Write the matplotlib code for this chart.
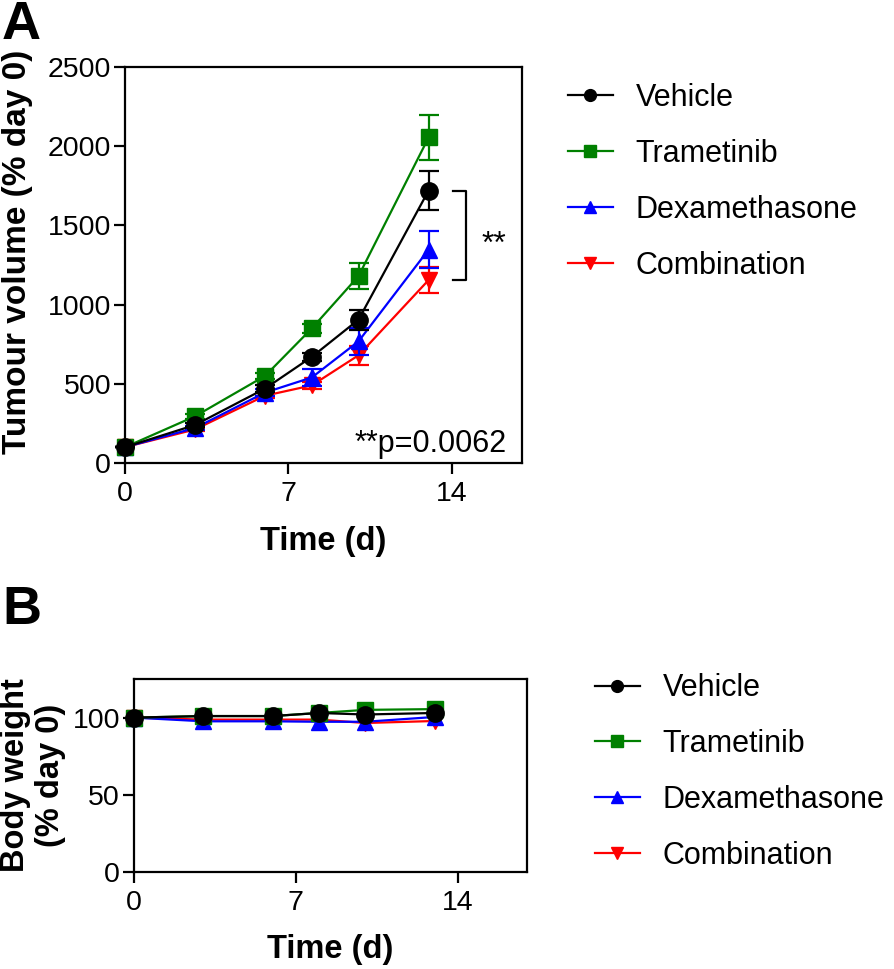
import matplotlib
matplotlib.use("Agg")
import matplotlib.pyplot as plt
from matplotlib.lines import Line2D

plt.rcParams['font.family'] = ['Liberation Sans', 'DejaVu Sans']

# ---------------- data ----------------
days = [0, 3, 6, 8, 10, 13]
groups = ["Vehicle", "Trametinib", "Dexamethasone", "Combination"]

vehicle_vol = [100, 240, 470, 670, 905, 1720]
vehicle_err = [0, 15, 20, 25, 63, 122]
trametinib_vol = [100, 295, 550, 850, 1180, 2055]
trametinib_err = [0, 15, 20, 30, 80, 140]
dexa_vol = [100, 221, 445, 540, 768, 1347]
dexa_err = [0, 12, 20, 55, 84, 115]
combo_vol = [100, 212, 425, 490, 680, 1155]
combo_err = [0, 10, 15, 20, 60, 80]

vehicle_bw = [100, 101, 101, 103, 102, 103]
trametinib_bw = [100, 101, 101, 103, 105, 105.5]
dexa_bw = [100, 97.6, 97.6, 97.3, 97.3, 100.4]
combo_bw = [100, 98.7, 98.7, 98.7, 96.5, 97.8]

x_ticks = [0, 7, 14]
vol_ticks = [0, 500, 1000, 1500, 2000, 2500]
bw_ticks = [0, 50, 100]
p_text = "**p=0.0062"
sig_text = "**"

colors = ["black", "#008000", "#0000ff", "#ff0000"]
markers = ["o", "s", "^", "v"]
msizes = [12.5, 11, 12, 12]
zorders = [6, 5, 4, 3]

vols = [vehicle_vol, trametinib_vol, dexa_vol, combo_vol]
errs = [vehicle_err, trametinib_err, dexa_err, combo_err]
bws = [vehicle_bw, trametinib_bw, dexa_bw, combo_bw]

W, H = 894, 969
fig = plt.figure(figsize=(W / 100, H / 100), dpi=100)

def px_axes(l, t, r, b):
    return fig.add_axes([l / W, 1 - b / H, (r - l) / W, (b - t) / H])

axA = px_axes(125, 67, 522, 463)
axB = px_axes(134, 679, 527, 872)

TICK_FS = 20.5
LAB_FS = 23.5

def style(ax):
    for s in ax.spines.values():
        s.set_linewidth(1.6)
    ax.tick_params(axis='both', length=8, width=1.6, labelsize=TICK_FS, direction='out')
    ax.tick_params(axis='x', pad=5)
    ax.tick_params(axis='y', pad=2)
    ax.set_xlim(0, 17)
    ax.set_xticks(x_ticks)

# ---- Panel A ----
for name, v, e, c, m, ms, z in zip(groups, vols, errs, colors, markers, msizes, zorders):
    axA.errorbar(days, v, yerr=e, color=c, marker=m, markersize=ms, lw=1.6,
                 elinewidth=1.6, capsize=7, capthick=1.6, zorder=z, clip_on=False,
                 label=name)
style(axA)
axA.set_ylim(0, 2500)
axA.set_yticks(vol_ticks)
axA.set_xlabel("Time (d)", fontsize=LAB_FS, fontweight='bold')
axA.xaxis.set_label_coords(0.5, -0.16)
axA.xaxis.label.set_va('top')

fig.text(18 / W, 1 - 252 / H, "Tumour volume (% day 0)", rotation=90,
         ha='center', va='center', fontsize=LAB_FS + 0.5, fontweight='bold')

axA.text(0.962, 0.028, p_text, transform=axA.transAxes, ha='right',
         va='baseline', fontsize=22, zorder=10)

# significance bracket between vehicle and combination at last day
bx0, bx1 = 14.05, 14.6
yt, yb = vehicle_vol[-1], combo_vol[-1]
axA.plot([bx0, bx1, bx1, bx0], [yt, yt, yb, yb], color='black', lw=1.6, clip_on=False)
axA.text(0.929, 0.53, sig_text, transform=axA.transAxes, ha='center',
         va='baseline', fontsize=23)

# ---- Panel B ----
for name, v, c, m, ms, z in zip(groups, bws, colors, markers, msizes, zorders):
    axB.plot(days, v, color=c, marker=m, markersize=ms, lw=1.6, zorder=z,
             clip_on=False, label=name)
style(axB)
axB.set_ylim(0, 125)
axB.set_yticks(bw_ticks)
axB.set_xlabel("Time (d)", fontsize=LAB_FS, fontweight='bold')
axB.xaxis.set_label_coords(0.5, -0.32)
axB.xaxis.label.set_va('top')

fig.text(33 / W, 1 - 775 / H, "Body weight\n(% day 0)", rotation=90,
         ha='center', va='center', multialignment='center',
         fontsize=LAB_FS, fontweight='bold')

# ---- legends ----
def make_handles():
    return [Line2D([], [], color=c, marker=m, markersize=8.5 if m != 's' else 8, lw=1.6)
            for c, m in zip(colors, markers)]

legA = fig.legend(make_handles(), groups, loc='center left',
                  bbox_to_anchor=(568 / W, 1 - 182 / H), frameon=False,
                  fontsize=22, handlelength=1.47, handletextpad=0.75,
                  borderpad=0, borderaxespad=0, labelspacing=0.85)
legB = fig.legend(make_handles(), groups, loc='center left',
                  bbox_to_anchor=(595 / W, 1 - 772 / H), frameon=False,
                  fontsize=22, handlelength=1.47, handletextpad=0.75,
                  borderpad=0, borderaxespad=0, labelspacing=0.84)

# panel letters
fig.text(2 / W, 1 - 0 / H, "A", ha='left', va='top', fontsize=39, fontweight='bold')
fig.text(2 / W, 1 - 585 / H, "B", ha='left', va='top', fontsize=39, fontweight='bold')

fig.savefig("out.png", dpi=100)
